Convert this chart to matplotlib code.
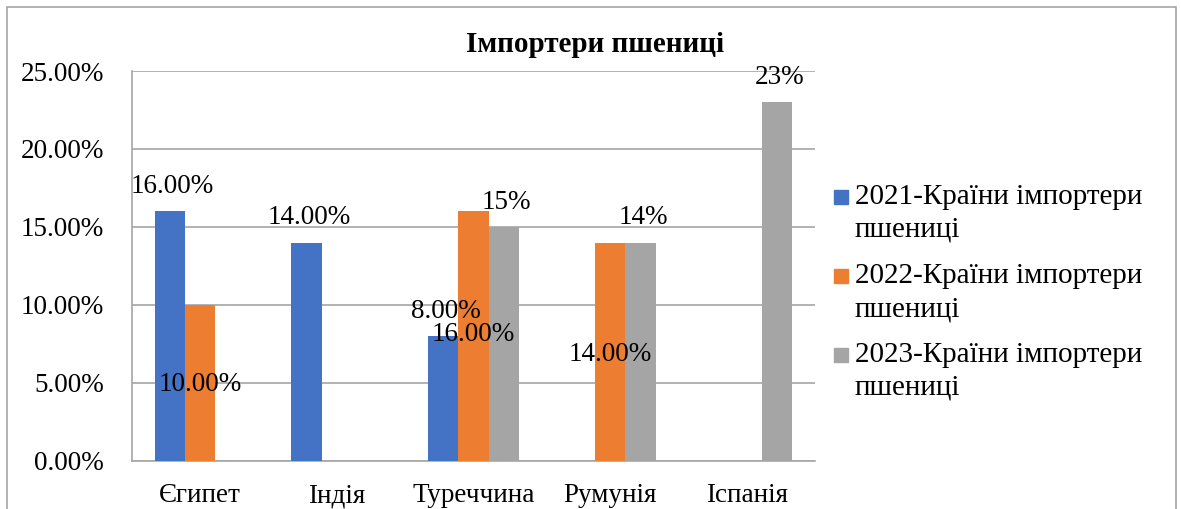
import matplotlib.pyplot as plt
import numpy as np
from matplotlib.patches import Rectangle

plt.rcParams['font.family'] = ['Liberation Serif', 'DejaVu Serif']

# data
countries = ['Єгипет', 'Індія', 'Туреччина', 'Румунія', 'Іспанія']
series_names = ['2021-Країни імпортери\nпшениці',
                '2022-Країни імпортери\nпшениці',
                '2023-Країни імпортери\nпшениці']
v2021 = [0.16, 0.14, 0.08, np.nan, np.nan]
v2022 = [0.10, np.nan, 0.16, 0.14, np.nan]
v2023 = [np.nan, np.nan, 0.15, 0.14, 0.23]
colors = ['#4472C4', '#ED7D31', '#A5A5A5']

# label texts as shown on the chart
lab2021 = ['16.00%', '14.00%', '8.00%', None, None]
lab2022 = ['10.00%', None, '16.00%', '14.00%', None]
lab2023 = [None, None, '15%', '14%', '23%']
# where the 2022 labels ended up (y in data units), they were moved by hand
lab2022_y = [0.049, None, 0.081, 0.068, None]

W, H = 1181, 509
fig = plt.figure(figsize=(W / 100, H / 100), dpi=100)
ax = fig.add_axes([132 / W, 1 - 461 / H, 683 / W, 390 / H])

# outer chart border
fig.patches.append(Rectangle((7 / W, -0.1), 1169 / W, 1.1 - 7 / H,
                             transform=fig.transFigure, fill=False,
                             edgecolor='#a6a6a6', lw=1.2))

x = np.arange(len(countries))
w = 1 / 4.5
allvals = [v2021, v2022, v2023]
for i, vals in enumerate(allvals):
    ax.bar(x + (i - 1) * w, vals, w, color=colors[i], label=series_names[i], zorder=3)

fs = 19.5
for j in range(len(countries)):
    if lab2021[j]:
        ax.text(x[j] - w + 0.02, v2021[j] + 0.008, lab2021[j], ha='center', va='bottom', fontsize=fs, zorder=4)
    if lab2022[j]:
        ax.text(x[j], lab2022_y[j], lab2022[j], ha='center', va='center', fontsize=fs, zorder=4)
    if lab2023[j]:
        ax.text(x[j] + w + 0.02, v2023[j] + 0.008, lab2023[j], ha='center', va='bottom', fontsize=fs, zorder=4)

ax.set_xlim(-0.5, 4.5)
ax.set_ylim(0, 0.25)
ax.set_yticks(np.arange(0, 0.2501, 0.05))
ax.set_yticklabels(['%.2f%%' % (t * 100) for t in np.arange(0, 0.2501, 0.05)], fontsize=fs)
ax.set_xticks(x)
ax.set_xticklabels(countries, fontsize=fs)
ax.tick_params(length=0, pad=16)
ax.tick_params(axis='y', pad=20)
ax.grid(axis='y', color='#a6a6a6', lw=1.2, zorder=0)
for s in ['top', 'right']:
    ax.spines[s].set_visible(False)
for s in ['left', 'bottom']:
    ax.spines[s].set_color('#a6a6a6')
    ax.spines[s].set_linewidth(1.2)

fig.text(595 / W, 1 - 45 / H, 'Імпортери пшениці', fontsize=21, fontweight='bold',
         ha='center', va='center')

# legend drawn by hand so the square sits on the first text line
for i, name in enumerate(series_names):
    y1 = 197 + i * 79
    fig.patches.append(Rectangle((834 / W, 1 - (y1 + 7) / H), 14 / W, 14 / H,
                                 transform=fig.transFigure, color=colors[i]))
    fig.text(855 / W, 1 - (y1 + 16.5) / H, name, fontsize=21, ha='left', va='center',
             linespacing=1.35)

fig.savefig('out.png', dpi=100)
